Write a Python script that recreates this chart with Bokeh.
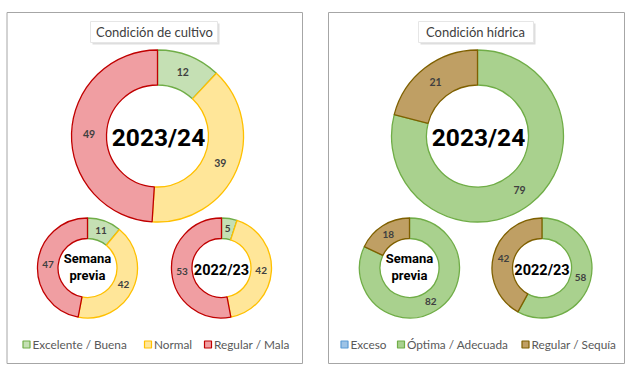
import math
from bokeh.plotting import figure
from bokeh.models import Range1d, ColumnDataSource
from bokeh.core.properties import value
from bokeh.embed import file_html
from bokeh.resources import INLINE

# ---------------- data ----------------
categories_cultivo = ["Excelente / Buena", "Normal", "Regular / Mala"]
cultivo_2023_24 = [12, 39, 49]
cultivo_semana_previa = [11, 42, 47]
cultivo_2022_23 = [5, 42, 53]

categories_hidrica = ["Exceso", "Óptima / Adecuada", "Regular / Sequía"]
hidrica_2023_24 = [0, 79, 21]
hidrica_semana_previa = [0, 82, 18]
hidrica_2022_23 = [0, 58, 42]

titles = ["Condición de cultivo", "Condición hídrica"]
center_labels = ["2023/24", "Semana\nprevia", "2022/23"]

# ---------------- styles ----------------
cult_fill = ["#C5E0B4", "#FFE699", "#F09EA2"]
cult_line = ["#70AD47", "#FFC000", "#C00000"]
hid_fill = ["#9DC3E6", "#A9D18E", "#BF9F64"]
hid_line = ["#5B9BD5", "#70AD47", "#7F6000"]

W, H = 632, 370
p = figure(width=W, height=H, x_range=Range1d(0, W), y_range=Range1d(375 - H, 375),
           output_backend="svg", toolbar_location=None, min_border=0,
           background_fill_color="white", border_fill_color="white")
p.axis.visible = False
p.grid.visible = False
p.outline_line_color = None

LABEL_FONT = "Lato"
CENTER_FONT = "Roboto"


def X(ix):
    return ix


def Y(iy):
    return 375 - iy


def donut(cx, cy, r_in, r_out, values, fills, lines, label_size):
    total = float(sum(values))
    starts, ends, fc, lc, lx, ly, lt = [], [], [], [], [], [], []
    cum = 0.0
    for v, f, l in zip(values, fills, lines):
        a0 = math.pi / 2 - 2 * math.pi * cum / total
        a1 = math.pi / 2 - 2 * math.pi * (cum + v) / total
        if v > 0:
            starts.append(a0)
            ends.append(a1)
            fc.append(f)
            lc.append(l)
            mid = (a0 + a1) / 2
            rm = (r_in + r_out) / 2
            lx.append(cx + rm * math.cos(mid))
            ly.append(cy + rm * math.sin(mid))
            lt.append(str(v))
        cum += v
    src = ColumnDataSource(dict(x=[cx] * len(starts), y=[cy] * len(starts),
                                s=starts, e=ends, fc=fc, lc=lc))
    p.annular_wedge(x="x", y="y", inner_radius=r_in, outer_radius=r_out,
                    start_angle="s", end_angle="e", direction="clock",
                    fill_color="fc", line_color="lc", line_width=1.3, source=src)
    p.text(x=lx, y=ly, text=lt, text_align="center", text_baseline="middle",
           text_font=value(LABEL_FONT), text_font_style="bold",
           text_font_size=label_size, text_color="#404040")


def panel(x0, x1, title, tcx, tbox, series, fills, lines, cats, centers, legend_pos):
    # frame
    p.quad(left=[x0], right=[x1], bottom=[Y(363)], top=[Y(12)],
           fill_color=None, line_color="#A6A6A6", line_width=1)
    # title box with shadow
    bl, br = tbox
    p.quad(left=[bl + 2], right=[br + 2], bottom=[Y(44)], top=[Y(23)],
           fill_color="#C8C8C8", fill_alpha=0.6, line_color=None)
    p.quad(left=[bl], right=[br], bottom=[Y(42)], top=[Y(21)],
           fill_color="white", line_color="#E6E6E6", line_width=1)
    p.text(x=[tcx], y=[Y(31)], text=[title], text_align="center",
           text_baseline="middle", text_font=value(LABEL_FONT),
           text_font_size="13px", text_color="#404040")
    # donuts
    (bx, by), (s1x, s1y), (s2x, s2y) = centers
    donut(bx, by, 51, 86, series[0], fills, lines, "10.5px")
    donut(s1x, s1y, 29.5, 50, series[1], fills, lines, "10px")
    donut(s2x, s2y, 29.5, 50, series[2], fills, lines, "10px")
    # center labels
    p.text(x=[bx + 1], y=[by - 1], text=[center_labels[0]], text_align="center",
           text_baseline="middle", text_font=value(CENTER_FONT),
           text_font_style="bold", text_font_size="24.5px", text_color="black")
    p.text(x=[s1x], y=[s1y + 1], text=[center_labels[1]], text_align="center",
           text_baseline="middle", text_font=value(CENTER_FONT),
           text_font_style="bold", text_font_size="13px", text_color="black",
           text_line_height=1.1)
    p.text(x=[s2x], y=[s2y - 2], text=[center_labels[2]], text_align="center",
           text_baseline="middle", text_font=value(CENTER_FONT),
           text_font_style="bold", text_font_size="14.5px", text_color="black")
    # legend
    ly = Y(344)
    p.rect(x=[lp for lp in legend_pos], y=[ly] * 3, width=7, height=7,
           fill_color=fills, line_color=lines, line_width=1.2)
    p.text(x=[lp + 6 for lp in legend_pos], y=[ly] * 3, text=cats,
           text_align="left", text_baseline="middle",
           text_font=value(LABEL_FONT), text_font_size="11.8px",
           text_color="#595959")


panel(X(6.5), X(302), titles[0], X(154), (X(90), X(217)),
      [cultivo_2023_24, cultivo_semana_previa, cultivo_2022_23],
      cult_fill, cult_line, categories_cultivo,
      [(X(157), Y(135.5)), (X(87), Y(267.5)), (X(221), Y(267.5))],
      [X(26), X(147.5), X(207.5)])

panel(X(328), X(624), titles[1], X(475), (X(418), X(533)),
      [hidrica_2023_24, hidrica_semana_previa, hidrica_2022_23],
      hid_fill, hid_line, categories_hidrica,
      [(X(477), Y(135.5)), (X(409), Y(267.5)), (X(541.5), Y(267.5))],
      [X(344), X(400.5), X(525)])

open("out.html", "w").write(file_html(p, INLINE))
